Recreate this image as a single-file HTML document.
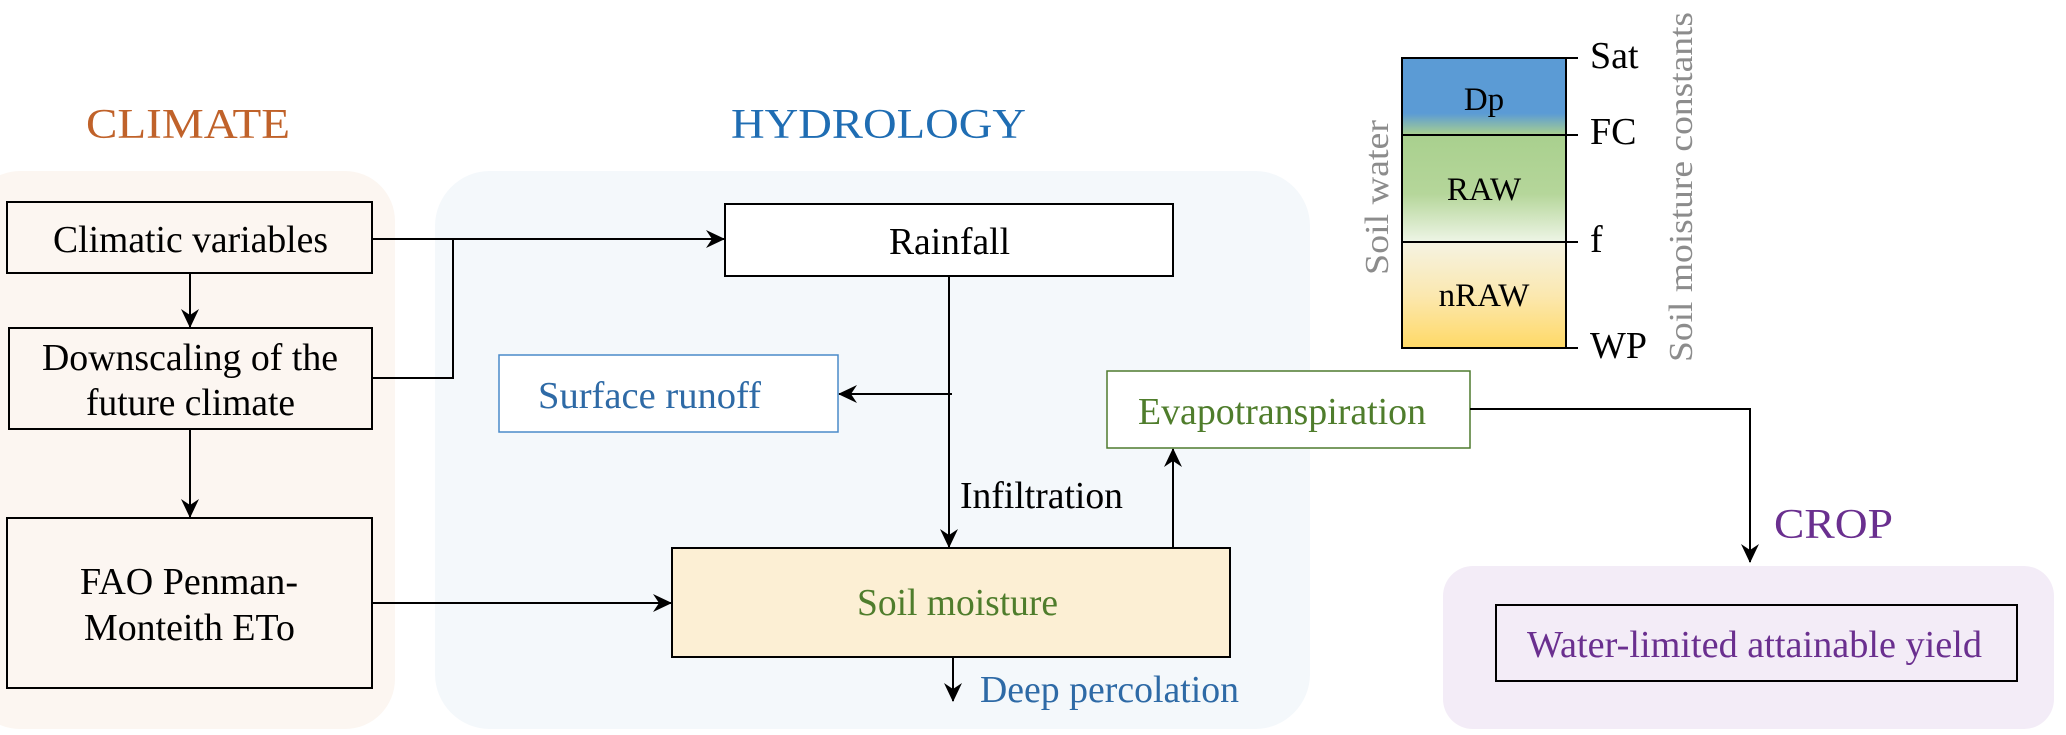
<!DOCTYPE html>
<html><head><meta charset="utf-8"><style>
html,body{margin:0;padding:0;background:#fff;}
svg{display:block;font-family:"Liberation Serif","Times New Roman","DejaVu Serif",serif;}
svg text{font-family:"Liberation Serif","Times New Roman","DejaVu Serif",serif;}
</style></head><body>
<svg width="2066" height="735" viewBox="0 0 2066 735" xmlns="http://www.w3.org/2000/svg" font-family="'Liberation Serif', 'Times New Roman', 'DejaVu Serif', serif">
<defs>
<marker id="ah" markerWidth="22" markerHeight="22" refX="18" refY="9" orient="auto" markerUnits="userSpaceOnUse">
<path d="M0,0 L19,9 L0,18 L6,9 Z" fill="#000"/>
</marker>
<linearGradient id="gDp" x1="0" y1="0" x2="0" y2="1">
<stop offset="0" stop-color="#5b9bd5"/><stop offset="0.72" stop-color="#5b9bd5"/><stop offset="1" stop-color="#a9d08e"/>
</linearGradient>
<linearGradient id="gRaw" x1="0" y1="0" x2="0" y2="1">
<stop offset="0" stop-color="#a9d08e"/><stop offset="0.55" stop-color="#b5d69a"/><stop offset="1" stop-color="#eef5e6"/>
</linearGradient>
<linearGradient id="gN" x1="0" y1="0" x2="0" y2="1">
<stop offset="0" stop-color="#f5f3e2"/><stop offset="0.5" stop-color="#fbe8b0"/><stop offset="1" stop-color="#ffd966"/>
</linearGradient>
</defs>

<rect x="-30" y="171" width="425" height="558" rx="50" fill="#fcf6f1"/>
<rect x="435" y="171" width="875" height="558" rx="55" fill="#f4f8fb"/>
<rect x="1443" y="566" width="611" height="163" rx="30" fill="#f3ecf7"/>

<text x="86" y="138" font-size="42" fill="#c0622a" textLength="204" lengthAdjust="spacingAndGlyphs">CLIMATE</text>
<text x="731" y="138" font-size="42" fill="#1f6db3" textLength="295" lengthAdjust="spacingAndGlyphs">HYDROLOGY</text>
<text x="1774" y="538" font-size="42" fill="#6a2f8f" textLength="119" lengthAdjust="spacingAndGlyphs">CROP</text>

<rect x="7" y="202" width="365" height="71" fill="#fcf6f1" stroke="#000" stroke-width="2"/>
<text x="53" y="252" font-size="38" fill="#000" textLength="275" lengthAdjust="spacingAndGlyphs">Climatic variables</text>
<rect x="9" y="328" width="363" height="101" fill="#fcf6f1" stroke="#000" stroke-width="2"/>
<text x="42" y="370" font-size="38" textLength="296" lengthAdjust="spacingAndGlyphs">Downscaling of the</text>
<text x="86" y="415" font-size="38" textLength="209" lengthAdjust="spacingAndGlyphs">future climate</text>
<rect x="7" y="518" width="365" height="170" fill="#fcf6f1" stroke="#000" stroke-width="2"/>
<text x="80" y="594" font-size="38" textLength="218" lengthAdjust="spacingAndGlyphs">FAO Penman-</text>
<text x="84" y="640" font-size="38" textLength="211" lengthAdjust="spacingAndGlyphs">Monteith ETo</text>

<line x1="190" y1="273" x2="190" y2="327" stroke="#000" stroke-width="2" marker-end="url(#ah)"/>
<line x1="190" y1="429" x2="190" y2="517" stroke="#000" stroke-width="2" marker-end="url(#ah)"/>
<line x1="372" y1="239" x2="724" y2="239" stroke="#000" stroke-width="2" marker-end="url(#ah)"/>
<polyline points="372,378 453,378 453,239" fill="none" stroke="#000" stroke-width="2"/>
<line x1="372" y1="603" x2="671" y2="603" stroke="#000" stroke-width="2" marker-end="url(#ah)"/>

<rect x="725" y="204" width="448" height="72" fill="#fff" stroke="#000" stroke-width="2"/>
<text x="889" y="254" font-size="38" textLength="121" lengthAdjust="spacingAndGlyphs">Rainfall</text>
<line x1="949" y1="276" x2="949" y2="547" stroke="#000" stroke-width="2" marker-end="url(#ah)"/>
<line x1="952" y1="394" x2="839" y2="394" stroke="#000" stroke-width="2" marker-end="url(#ah)"/>

<rect x="499" y="355" width="339" height="77" fill="#fff" stroke="#4a8ac9" stroke-width="1.5"/>
<text x="538" y="408" font-size="38" fill="#2e6aa6" textLength="223" lengthAdjust="spacingAndGlyphs">Surface runoff</text>

<text x="960" y="508" font-size="38" textLength="163" lengthAdjust="spacingAndGlyphs">Infiltration</text>

<rect x="672" y="548" width="558" height="109" fill="#fcefd4" stroke="#000" stroke-width="2"/>
<text x="857" y="615" font-size="38" fill="#4f7d2c" textLength="201" lengthAdjust="spacingAndGlyphs">Soil moisture</text>
<line x1="953" y1="657" x2="953" y2="701" stroke="#000" stroke-width="2" marker-end="url(#ah)"/>
<text x="980" y="702" font-size="38" fill="#2e6aa6" textLength="259" lengthAdjust="spacingAndGlyphs">Deep percolation</text>

<line x1="1173" y1="548" x2="1173" y2="449" stroke="#000" stroke-width="2" marker-end="url(#ah)"/>
<rect x="1107" y="371" width="363" height="77" fill="#fff" stroke="#4e7a2e" stroke-width="1.5"/>
<text x="1138" y="424" font-size="38" fill="#4f7d2c" textLength="288" lengthAdjust="spacingAndGlyphs">Evapotranspiration</text>
<polyline points="1470,409 1750,409 1750,562" fill="none" stroke="#000" stroke-width="2" marker-end="url(#ah)"/>

<rect x="1496" y="605" width="521" height="76" fill="none" stroke="#000" stroke-width="2"/>
<text x="1527" y="657" font-size="38" fill="#6a2f8f" textLength="455" lengthAdjust="spacingAndGlyphs">Water-limited attainable yield</text>

<rect x="1402" y="58" width="164" height="77" fill="url(#gDp)"/>
<rect x="1402" y="135" width="164" height="107" fill="url(#gRaw)"/>
<rect x="1402" y="242" width="164" height="106" fill="url(#gN)"/>
<rect x="1402" y="58" width="164" height="290" fill="none" stroke="#000" stroke-width="2"/>
<line x1="1402" y1="135" x2="1578" y2="135" stroke="#000" stroke-width="2"/>
<line x1="1402" y1="242" x2="1578" y2="242" stroke="#000" stroke-width="2"/>
<line x1="1566" y1="58" x2="1578" y2="58" stroke="#000" stroke-width="2"/>
<line x1="1540" y1="348" x2="1578" y2="348" stroke="#000" stroke-width="2"/>
<text x="1484" y="110" font-size="33" text-anchor="middle">Dp</text>
<text x="1484" y="200" font-size="33" text-anchor="middle">RAW</text>
<text x="1484" y="306" font-size="33" text-anchor="middle">nRAW</text>
<text x="1590" y="68" font-size="38">Sat</text>
<text x="1590" y="144" font-size="38">FC</text>
<text x="1590" y="252" font-size="38">f</text>
<text x="1590" y="358" font-size="38">WP</text>
<text transform="translate(1388,275) rotate(-90)" font-size="34" fill="#8c8c8c" textLength="155" lengthAdjust="spacingAndGlyphs">Soil water</text>
<text transform="translate(1692,362) rotate(-90)" font-size="34" fill="#8c8c8c" textLength="350" lengthAdjust="spacingAndGlyphs">Soil moisture constants</text>
</svg>
</body></html>
